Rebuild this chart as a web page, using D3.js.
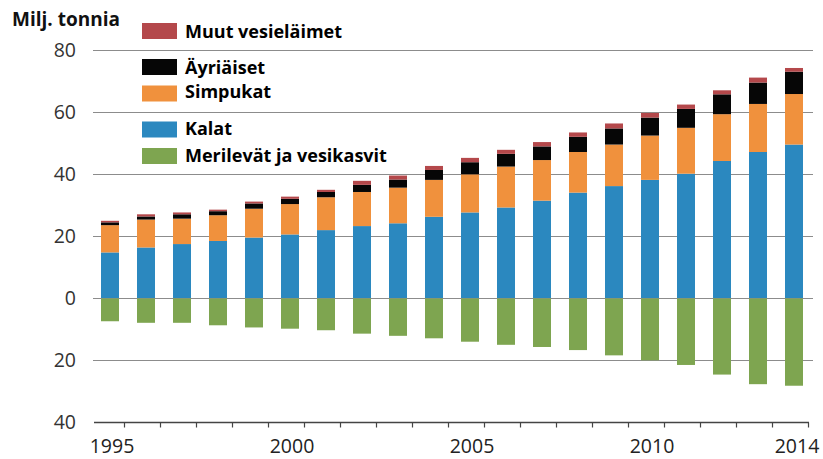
<!DOCTYPE html>
<html>
<head>
<meta charset="utf-8">
<script src="https://cdn.jsdelivr.net/npm/d3@7"></script>
<style>
    body { margin: 0; background: #fff; }
    svg { display: block; font-family: "Open Sans", sans-serif; }
</style>
</head>
<body>
<svg id="chart" width="823" height="459"></svg>
<script>
// Data, million tonnes
const years = d3.range(1995, 2015);
const kalat = [14.7, 16.3, 17.4, 18.4, 19.5, 20.5, 21.9, 23.2, 24.1, 26.2, 27.6, 29.2, 31.4, 34.0, 36.1, 38.1, 40.1, 44.2, 47.1, 49.5];
const simpukat = [8.8, 9.0, 8.2, 8.3, 9.3, 9.8, 10.6, 11.0, 11.5, 11.9, 12.3, 13.2, 13.1, 13.1, 13.4, 14.3, 14.8, 15.1, 15.5, 16.3];
const ayriaiset = [0.9, 1.0, 1.4, 1.3, 1.7, 1.7, 1.7, 2.3, 2.6, 3.2, 3.9, 4.1, 4.4, 4.9, 5.2, 5.8, 6.1, 6.4, 6.9, 7.2];
const muut = [0.5, 0.7, 0.6, 0.5, 0.6, 0.7, 0.7, 1.3, 1.3, 1.3, 1.4, 1.3, 1.4, 1.4, 1.6, 1.5, 1.4, 1.3, 1.6, 1.2];
const merilevat = [7.5, 8.0, 8.0, 8.8, 9.5, 9.9, 10.4, 11.5, 12.2, 13.0, 14.1, 15.1, 15.8, 16.8, 18.5, 20.1, 21.6, 24.7, 27.8, 28.3];
const yTicks = [80, 60, 40, 20, 0, -20, -40];
const yearLabels = [1995, 2000, 2005, 2010, 2014];

const seriesNames = ['Kalat', 'Simpukat', 'Äyriäiset', 'Muut vesieläimet'];
const seriesValues = [kalat, simpukat, ayriaiset, muut];
const colors = {
    'Muut vesieläimet': '#b4484b',
    'Äyriäiset': '#060606',
    'Simpukat': '#f0913d',
    'Kalat': '#2b88bf',
    'Merilevät ja vesikasvit': '#7ea550'
};

const svg = d3.select('#chart');

const x = d3.scaleBand()
    .domain(years)
    .range([92, 812])
    .paddingInner(0.5)
    .paddingOuter(0.25);

const y = d3.scaleLinear()
    .domain([-40, 80])
    .range([422, 50]);

// gridlines
svg.append('g')
    .selectAll('line')
    .data(yTicks.filter(d => d > -40))
    .enter()
    .append('line')
    .attr('x1', 93)
    .attr('x2', 813)
    .attr('y1', d => Math.round(y(d)) + 0.5)
    .attr('y2', d => Math.round(y(d)) + 0.5)
    .style('stroke', '#8c8c8c')
    .style('stroke-width', 1);

// y labels (absolute values)
svg.append('g')
    .selectAll('text')
    .data(yTicks)
    .enter()
    .append('text')
    .attr('x', 76)
    .attr('y', d => y(d) + 7)
    .attr('text-anchor', 'end')
    .style('font-size', '19.5px')
    .style('fill', '#333')
    .text(d => Math.abs(d));

// stacked positive bars
const rows = years.map((yr, i) => {
    const row = { year: yr };
    seriesNames.forEach((name, j) => { row[name] = seriesValues[j][i]; });
    return row;
});
const stacked = d3.stack().keys(seriesNames)(rows);

svg.append('g')
    .selectAll('g')
    .data(stacked)
    .enter()
    .append('g')
    .style('fill', d => colors[d.key])
    .selectAll('rect')
    .data(d => d)
    .enter()
    .append('rect')
    .attr('x', d => x(d.data.year))
    .attr('width', x.bandwidth())
    .attr('y', d => y(d[1]))
    .attr('height', d => y(d[0]) - y(d[1]));

// negative bars (seaweed)
svg.append('g')
    .selectAll('rect')
    .data(years.map((yr, i) => ({ year: yr, value: merilevat[i] })))
    .enter()
    .append('rect')
    .attr('x', d => x(d.year))
    .attr('width', x.bandwidth())
    .attr('y', y(0) + 0.5)
    .attr('height', d => y(-d.value) - y(0) - 0.5)
    .style('fill', colors['Merilevät ja vesikasvit']);

// bottom axis
const axisY = Math.round(y(-40)) + 0.5;
svg.append('line')
    .attr('x1', 94)
    .attr('x2', 809)
    .attr('y1', axisY)
    .attr('y2', axisY)
    .style('stroke', '#444')
    .style('stroke-width', 1.5);

svg.append('g')
    .selectAll('line')
    .data(years)
    .enter()
    .append('line')
    .attr('x1', d => x(d) + x.bandwidth() + x.step() * 0.25 - 3.5)
    .attr('x2', d => x(d) + x.bandwidth() + x.step() * 0.25 - 3.5)
    .attr('y1', axisY)
    .attr('y2', axisY + 5)
    .style('stroke', '#444')
    .style('stroke-width', 1.2);

svg.append('g')
    .selectAll('text')
    .data(yearLabels)
    .enter()
    .append('text')
    .attr('x', d => x(d) + x.bandwidth() / 2 + (d === 2014 ? 3 : 2))
    .attr('y', 453)
    .attr('text-anchor', 'middle')
    .style('font-size', '19.5px')
    .style('fill', '#222')
    .text(d => d);

// title
svg.append('text')
    .attr('x', 12)
    .attr('y', 26)
    .style('font-size', '19px')
    .style('font-weight', 'bold')
    .style('fill', '#111')
    .text('Milj. tonnia');

// legend
const legendRows = [
    { key: 'Muut vesieläimet', top: 23, base: 37.5 },
    { key: 'Äyriäiset', top: 59, base: 73.5 },
    { key: 'Simpukat', top: 85.5, base: 97.5 },
    { key: 'Kalat', top: 121.5, base: 135 },
    { key: 'Merilevät ja vesikasvit', top: 148, base: 161.5 }
];
const legend = svg.append('g')
    .selectAll('g')
    .data(legendRows)
    .enter()
    .append('g');

legend.append('rect')
    .attr('x', 142)
    .attr('y', d => d.top)
    .attr('width', 35)
    .attr('height', 16)
    .style('fill', d => colors[d.key]);

legend.append('text')
    .attr('x', 185)
    .attr('y', d => d.base)
    .style('font-size', '18px')
    .style('font-weight', 'bold')
    .style('fill', '#000')
    .text(d => d.key);
</script>
</body>
</html>
